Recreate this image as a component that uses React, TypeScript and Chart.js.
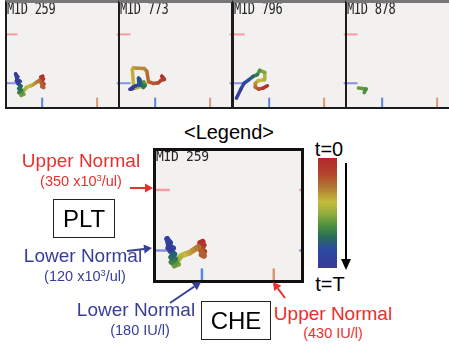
import React, { useEffect, useRef } from "react";
import { Chart, registerables } from "chart.js";
Chart.register(...registerables);

// ---------- data ----------
const CHE_AXIS = [20, 525];
const PLT_AXIS = [8, 498];
const PLT_NORMAL = [120, 350]; // lower, upper (x10^3/ul)
const CHE_NORMAL = [180, 430]; // lower, upper (IU/l)
const MARK_X = [20, 68];
const MARK_Y = [8, 52];
const EDGE_X = [519, 525];

const MID_LABELS = ["MID 259", "MID 773", "MID 796", "MID 878"];

const CHE_259 = [183, 174, 186, 177, 188, 179, 187, 168, 158, 147, 138, 127, 117, 107, 101, 91, 97, 84, 90, 80, 74, 86, 73, 84, 70, 80, 65, 69, 59, 64, 72, 62];
const PLT_259 = [154, 149, 140, 128, 116, 104, 100, 134, 127, 119, 112, 108, 104, 99, 90, 80, 68, 63, 74, 84, 76, 88, 95, 106, 118, 129, 137, 150, 164, 145, 124, 130];

const CHE_773 = [218, 210, 222, 207, 195, 172, 150, 142, 131, 81, 76, 81, 90, 108, 125, 136, 128, 118, 126, 133, 116, 111, 104, 106, 92, 80, 73, 66, 79];
const PLT_773 = [144, 153, 138, 134, 122, 119, 127, 176, 189, 192, 184, 120, 97, 103, 106, 113, 126, 118, 100, 108, 112, 136, 144, 112, 108, 103, 96, 92, 94];

const CHE_796 = [172, 152, 133, 117, 117, 130, 157, 160, 137, 126, 107, 87, 66, 51, 31];
const PLT_796 = [108, 97, 92, 101, 120, 132, 136, 171, 181, 160, 152, 136, 120, 92, 49];

const CHE_878 = [72, 107, 98];
const PLT_878 = [97, 93, 76];

const T_FULL = [0, 1];
const T_878 = [0.56, 0.64];

const PATIENTS = [
  { label: MID_LABELS[0], che: CHE_259, plt: PLT_259, t: T_FULL },
  { label: MID_LABELS[1], che: CHE_773, plt: PLT_773, t: T_FULL },
  { label: MID_LABELS[2], che: CHE_796, plt: PLT_796, t: T_FULL },
  { label: MID_LABELS[3], che: CHE_878, plt: PLT_878, t: T_878 },
];

// ---------- styles ----------
const CMAP: [number, number[]][] = [
  [0, [176, 42, 42]],
  [0.14, [180, 66, 44]],
  [0.27, [178, 122, 52]],
  [0.4, [198, 188, 58]],
  [0.5, [150, 175, 64]],
  [0.62, [74, 142, 62]],
  [0.72, [40, 108, 92]],
  [0.83, [42, 76, 160]],
  [1, [58, 56, 152]],
];
function colorAt(t: number) {
  const v = Math.max(0, Math.min(1, t));
  for (let i = 1; i < CMAP.length; i++) {
    if (v <= CMAP[i][0]) {
      const [a, ca] = CMAP[i - 1];
      const [b, cb] = CMAP[i];
      const f = (v - a) / (b - a);
      const c = ca.map((k, j) => Math.round(k + (cb[j] - k) * f));
      return `rgb(${c[0]},${c[1]},${c[2]})`;
    }
  }
  return "rgb(58,56,152)";
}
const GRADIENT = `linear-gradient(to bottom, ${CMAP.map(([p, c]) => `rgb(${c.join(",")}) ${p * 100}%`).join(", ")})`;

const PINK = "#f29ca4";
const LAV = "#8690e0";
const BLUE_T = "#5a88d6";
const ORANGE_T = "#de9676";
const RED = "#e8302c";
const NAVY = "#383d98";
const PANEL_BG = "#f2f1ef";
const SANS = '"Liberation Sans", Arial, Helvetica, sans-serif';
const MONO = '"DejaVu Sans Mono", "Liberation Mono", monospace';

function TrajChart({ w, h, che, plt, t, lineW, markW }: any) {
  const ref = useRef<HTMLCanvasElement>(null);
  useEffect(() => {
    const n = che.length;
    const pts = che.map((x: number, i: number) => ({ x, y: plt[i] }));
    const seg = (x0: number, y0: number, x1: number, y1: number) => [
      { x: x0, y: y0 },
      { x: x1, y: y1 },
    ];
    const mk = (data: any, color: string) => ({
      data,
      borderColor: color,
      borderWidth: markW,
      pointRadius: 0,
      order: 1,
      borderCapStyle: "butt",
    });
    const chart = new Chart(ref.current as HTMLCanvasElement, {
      type: "line",
      data: {
        datasets: [
          {
            data: pts,
            borderWidth: lineW,
            pointRadius: 0,
            order: 0,
            tension: 0,
            borderCapStyle: "round",
            borderJoinStyle: "round",
            borderColor: colorAt(t[0]),
            segment: {
              borderColor: (ctx: any) =>
                colorAt(t[0] + ((t[1] - t[0]) * (ctx.p0DataIndex + 0.5)) / Math.max(1, n - 1)),
            },
          } as any,
          mk(seg(MARK_X[0], PLT_NORMAL[1], MARK_X[1], PLT_NORMAL[1]), PINK),
          mk(seg(MARK_X[0], PLT_NORMAL[0], MARK_X[1], PLT_NORMAL[0]), LAV),
          mk(seg(EDGE_X[0], PLT_NORMAL[1], EDGE_X[1], PLT_NORMAL[1]), PINK),
          mk(seg(EDGE_X[0], PLT_NORMAL[0], EDGE_X[1], PLT_NORMAL[0]), LAV),
          mk(seg(CHE_NORMAL[0], MARK_Y[0], CHE_NORMAL[0], MARK_Y[1]), BLUE_T),
          mk(seg(CHE_NORMAL[1], MARK_Y[0], CHE_NORMAL[1], MARK_Y[1]), ORANGE_T),
        ],
      },
      options: {
        animation: false,
        responsive: false,
        devicePixelRatio: 1,
        events: [],
        layout: { padding: 0 },
        plugins: { legend: { display: false }, tooltip: { enabled: false } },
        scales: {
          x: { type: "linear", min: CHE_AXIS[0], max: CHE_AXIS[1], display: false },
          y: { type: "linear", min: PLT_AXIS[0], max: PLT_AXIS[1], display: false },
        },
      } as any,
    });
    return () => chart.destroy();
  }, []);
  return <canvas ref={ref} width={w} height={h} style={{ display: "block", width: w, height: h }} />;
}

function Txt({ x, y, size, color = "#000", anchor = "middle", font = SANS, children }: any) {
  return (
    <div
      style={{
        position: "absolute",
        left: x,
        top: y - 0.846 * size,
        fontFamily: font,
        fontSize: size,
        lineHeight: 1,
        color,
        whiteSpace: "nowrap",
        transform: anchor === "middle" ? "translateX(-50%)" : undefined,
      }}
    >
      {children}
    </div>
  );
}

const Sup = ({ children }: any) => (
  <span style={{ fontSize: "0.65em", position: "relative", top: "-0.45em" }}>{children}</span>
);

function Arrow({ x1, y1, x2, y2, color, w = 2, hl = 8, hw = 4.5 }: any) {
  const a = Math.atan2(y2 - y1, x2 - x1);
  const bx = x2 - hl * Math.cos(a);
  const by = y2 - hl * Math.sin(a);
  const px = -Math.sin(a) * hw;
  const py = Math.cos(a) * hw;
  return (
    <g>
      <line x1={x1} y1={y1} x2={bx} y2={by} stroke={color} strokeWidth={w} />
      <polygon points={`${x2},${y2} ${bx + px},${by + py} ${bx - px},${by - py}`} fill={color} />
    </g>
  );
}

function MidLabel({ text, baseline, size, sy }: any) {
  return (
    <div
      style={{
        position: "absolute",
        left: 0,
        top: baseline - 0.846 * size,
        fontFamily: MONO,
        fontSize: size,
        lineHeight: 1,
        color: "#262626",
        whiteSpace: "nowrap",
        transform: `scaleY(${sy})`,
        transformOrigin: `0 ${0.846 * size}px`,
        letterSpacing: -0.3,
      }}
    >
      {text}
    </div>
  );
}

const TOP_LEFTS = [5, 118, 232, 345];

export default function App() {
  useEffect(() => {
    document.body.style.margin = "0";
  }, []);
  return (
    <div
      style={{
        position: "fixed",
        left: 0,
        top: 0,
        width: 449,
        height: 346,
        overflow: "hidden",
        background: "#fff",
      }}
    >
      {PATIENTS.map((p, i) => (
        <div
          key={p.label}
          style={{
            position: "absolute",
            left: TOP_LEFTS[i],
            top: 0,
            width: 115,
            height: 109,
            boxSizing: "border-box",
            border: "2px solid #1c1c1c",
            borderTop: "3px solid #777",
            background: PANEL_BG,
            overflow: "hidden",
          }}
        >
          <TrajChart w={111} h={104} che={p.che} plt={p.plt} t={p.t} lineW={3.5} markW={2} />
          <MidLabel text={p.label} baseline={11} size={12} sy={1.25} />
        </div>
      ))}

      <Txt x={229} y={139} size={20}>
        {"<Legend>"}
      </Txt>

      <div
        style={{
          position: "absolute",
          left: 153,
          top: 148,
          width: 151,
          height: 135,
          boxSizing: "border-box",
          border: "3px solid #111",
          background: PANEL_BG,
          overflow: "hidden",
        }}
      >
        <TrajChart w={145} h={129} che={CHE_259} plt={PLT_259} t={T_FULL} lineW={5.5} markW={2.5} />
        <MidLabel text={MID_LABELS[0]} baseline={10} size={13} sy={1.1} />
      </div>

      <Txt x={81} y={167} size={19} color={RED}>
        Upper Normal
      </Txt>
      <Txt x={81} y={186} size={14.5} color={RED}>
        (350 x10<Sup>3</Sup>/ul)
      </Txt>

      <div
        style={{
          position: "absolute",
          left: 53,
          top: 199,
          width: 62,
          height: 39,
          boxSizing: "border-box",
          border: "1.5px solid #222",
          display: "flex",
          alignItems: "center",
          justifyContent: "center",
          fontFamily: SANS,
          fontSize: 24,
        }}
      >
        PLT
      </div>

      <Txt x={83} y={262} size={19} color={NAVY}>
        Lower Normal
      </Txt>
      <Txt x={85} y={281} size={14.5} color={NAVY}>
        (120 x10<Sup>3</Sup>/ul)
      </Txt>

      <Txt x={136} y={316} size={19} color={NAVY}>
        Lower Normal
      </Txt>
      <Txt x={140} y={335} size={14.5} color={NAVY}>
        (180 IU/l)
      </Txt>

      <div
        style={{
          position: "absolute",
          left: 201,
          top: 301,
          width: 70,
          height: 39,
          boxSizing: "border-box",
          border: "1.5px solid #222",
          display: "flex",
          alignItems: "center",
          justifyContent: "center",
          fontFamily: SANS,
          fontSize: 24,
        }}
      >
        CHE
      </div>

      <Txt x={333} y={320} size={19} color={RED}>
        Upper Normal
      </Txt>
      <Txt x={333} y={338} size={14.5} color={RED}>
        (430 IU/l)
      </Txt>

      <Txt x={329} y={156} size={20}>
        t=0
      </Txt>
      <div
        style={{
          position: "absolute",
          left: 318,
          top: 158,
          width: 19,
          height: 110,
          background: GRADIENT,
        }}
      />
      <Txt x={330} y={291} size={20}>
        t=T
      </Txt>

      <svg
        width={449}
        height={346}
        style={{ position: "absolute", left: 0, top: 0, pointerEvents: "none" }}
      >
        <Arrow x1={130} y1={188} x2={153} y2={188} color={RED} />
        <Arrow x1={127} y1={251} x2={152} y2={248} color={NAVY} />
        <Arrow x1={170} y1={303} x2={201} y2={282} color={NAVY} />
        <Arrow x1={285} y1={298} x2={273} y2={282} color={RED} />
        <Arrow x1={346} y1={163} x2={346} y2={270} color="#000" w={2} hl={11} hw={5} />
      </svg>
    </div>
  );
}
